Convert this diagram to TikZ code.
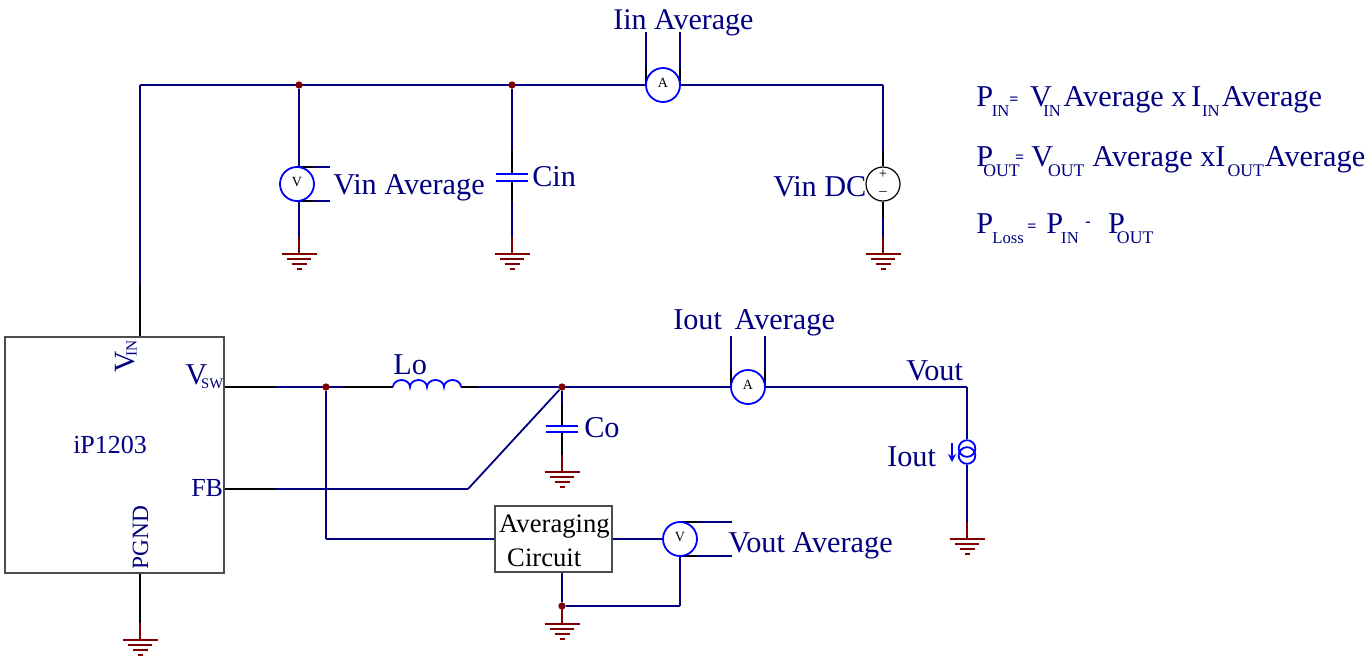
\documentclass[tikz,border=0pt]{standalone}
\usepackage{fontspec}
\setmainfont{Liberation Serif}
\usetikzlibrary{arrows.meta,backgrounds}
\definecolor{wirenavy}{RGB}{0,0,128}
\definecolor{partblue}{RGB}{0,0,255}
\definecolor{gndred}{RGB}{128,0,0}
\newcommand{\lowsub}[1]{\raisebox{-7.5pt}{\fontsize{12.5}{14}\selectfont #1}}
\newcommand{\lowout}[1]{\raisebox{-7.5pt}{\fontsize{13.3}{15}\selectfont #1}}
\newcommand{\smalleq}[1]{\raisebox{#1}{\fontsize{12}{14}\bfseries\selectfont =}}
\tikzset{
  wire/.style={draw=wirenavy,line width=1.35pt},
  stub/.style={draw=black,line width=1.35pt},
  part/.style={draw=partblue,line width=1.35pt},
  dot/.style={circle,fill=gndred,inner sep=0,minimum size=5.5pt},
  meter/.style={circle,draw=partblue,fill=white,line width=1.35pt,inner sep=0,minimum size=25.5pt,text=black,text height=7pt,text depth=3.5pt,font=\fontsize{10.5}{12}\selectfont},
  source/.style={circle,draw=black,fill=white,line width=.9pt,inner sep=0,minimum size=25.5pt},
  sign/.style={inner sep=0,text=black,font=\fontsize{11}{12}\selectfont},
  coil/.style={circle,draw=partblue,line width=1.35pt,inner sep=0,minimum size=12.5pt},
  lab/.style={text=wirenavy,font=\fontsize{22.7}{26}\selectfont,anchor=base west,inner sep=0,yshift=-1.2pt},
  lab small/.style={lab,font=\fontsize{19.5}{22}\selectfont},
  box/.style={draw=black!70,line width=.9pt,inner sep=0},
  gndsym/.pic={
    \draw[draw=gndred,line width=1.35pt] (0,0) -- (0,17);
    \draw[draw=gndred,line width=1.35pt] (-17.5,17) -- (17.5,17) (-12,22) -- (12,22) (-7.5,27) -- (7.5,27) (-2.5,32) -- (2.5,32);
  }
}
\begin{document}
\begin{tikzpicture}[x=.75pt,y=-.75pt]
  \useasboundingbox (0,0) rectangle (1372,665);
  \draw
    (299,85) node[dot] (topj1){}
    (512,85) node[dot] (topj2){}
    (326,387) node[dot] (swj){}
    (562,387) node[dot] (outj){}
    (562,606) node[dot] (avgj){}
    (140,85) coordinate (railL)
    (883,85) coordinate (railR)
    (140,285) coordinate (vinblk)
    (140,337) coordinate (vinpin)
    (140,573) coordinate (gndpin)
    (224,387) coordinate (swpin)
    (224,489) coordinate (fbpin)
    (275,387) coordinate (swblk)
    (275,489) coordinate (fbblk)
    (468,489) coordinate (fbbend)
    (326,539) coordinate (avgbend)
    (343,387) coordinate (loblk)
    (393,387) coordinate (loL)
    (461,387) coordinate (loR)
    (478,387) coordinate (loRblk)
    (967,387) coordinate (voutC)
    (299,167) coordinate (vinT)
    (299,201) coordinate (vinB)
    (313,167) coordinate (vinTb)
    (313,201) coordinate (vinBb)
    (330,167) coordinate (vinTe)
    (330,201) coordinate (vinBe)
    (646,32) coordinate (iinLe)
    (680,32) coordinate (iinRe)
    (646,68) coordinate (iinLb)
    (680,68) coordinate (iinRb)
    (646,85) coordinate (iinL)
    (680,85) coordinate (iinR)
    (731,336) coordinate (iouLe)
    (765,336) coordinate (iouRe)
    (731,371) coordinate (iouLb)
    (765,371) coordinate (iouRb)
    (731,387) coordinate (iouL)
    (765,387) coordinate (iouR)
    (680,522) coordinate (voaT)
    (680,556) coordinate (voaB)
    (697,522) coordinate (voaTb)
    (697,556) coordinate (voaBb)
    (732,522) coordinate (voaTe)
    (732,556) coordinate (voaBe)
    (680,606) coordinate (voaC)
    (562,572) coordinate (avgbot)
    (512,174) coordinate (cinT)
    (512,181) coordinate (cinB)
    (512,150) coordinate (cinTb)
    (512,202) coordinate (cinBb)
    (496,174) coordinate (cin1)
    (528,174) coordinate (cin2)
    (496,181) coordinate (cin3)
    (528,181) coordinate (cin4)
    (562,426) coordinate (coT)
    (562,432) coordinate (coB)
    (562,404) coordinate (coTb)
    (546,426) coordinate (co1)
    (578,426) coordinate (co2)
    (546,432) coordinate (co3)
    (578,432) coordinate (co4)
    (883,151) coordinate (srcTb)
    (883,218) coordinate (srcBb)
    (952,443) coordinate (arrT)
    (952,462) coordinate (arrB)
    (299,237) coordinate (gnd1)
    (512,237) coordinate (gnd2)
    (883,237) coordinate (gnd3)
    (140,623) coordinate (gnd4)
    (562,455) coordinate (gnd5)
    (562,607) coordinate (gnd6)
    (967,522) coordinate (gnd7);
  \node[box,minimum width=164.25pt,minimum height=177pt] (ic) at (114.5,455) {};
  \node[box,minimum width=87.75pt,minimum height=49.5pt,font=\fontsize{20}{25.5}\selectfont,align=left] (avgbox) at (553.5,539) {\rule{0pt}{16pt}\kern1.5pt Averaging\\\kern7.5pt Circuit};
  \node[meter] (iinmeter) at (663,85) {A};
  \node[meter] (vinmeter) at (297,184) {V};
  \node[meter] (ioutmeter) at (748,387) {A};
  \node[meter] (voutmeter) at (680,539) {V};
  \node[source] (vinsrc) at (883,184) {};
  \node[sign] (srcplus) at (883,174) {+};
  \node[sign] (srcminus) at (883,194) {--};
  \node[coil] (iout1) at (967,448.5) {};
  \node[coil] (iout2) at (967,455.5) {};
  \begin{scope}[on background layer]
    \begin{scope}[wire]
      \draw (railL) to (iinmeter);
      \draw (iinmeter) to (railR);
      \draw (railL) to (vinpin);
      \draw (railR) to (vinsrc);
      \draw (vinsrc) to (gnd3);
      \draw (topj1) to (vinT);
      \draw (vinB) to (gnd1);
      \draw (vinT) to (vinTe);
      \draw (vinB) to (vinBe);
      \draw (topj2) to (cinT);
      \draw (cinB) to (gnd2);
      \draw (iinLe) to (iinL);
      \draw (iinRe) to (iinR);
      \draw (swpin) to (loL);
      \draw (loR) to (ioutmeter);
      \draw (ioutmeter) to (voutC);
      \draw (voutC) to (iout1);
      \draw (iout2) to (gnd7);
      \draw (iouLe) to (iouL);
      \draw (iouRe) to (iouR);
      \draw (fbpin) to (fbbend);
      \draw (fbbend) to (outj);
      \draw (swj) to (avgbend);
      \draw (avgbend) to (avgbox);
      \draw (avgbox) to (voutmeter);
      \draw (avgbot) to (avgj);
      \draw (outj) to (coT);
      \draw (avgj) to (voaC);
      \draw (voaC) to (voaB);
      \draw (voaT) to (voaTe);
      \draw (voaB) to (voaBe);
    \end{scope}
    \begin{scope}[stub]
      \draw (vinblk) to (vinpin);
      \draw (gndpin) to (gnd4);
      \draw (swpin) to (swblk);
      \draw (fbpin) to (fbblk);
      \draw (loblk) to (loL);
      \draw (loR) to (loRblk);
      \draw (cinTb) to (cinT);
      \draw (cinB) to (cinBb);
      \draw (coTb) to (coT);
      \draw (coB) to (gnd5);
      \draw (srcTb) to (vinsrc);
      \draw (vinsrc) to (srcBb);
      \draw (vinT) to (vinTb);
      \draw (vinB) to (vinBb);
      \draw (voaT) to (voaTb);
      \draw (voaB) to (voaBb);
      \draw (iinLb) to (iinL);
      \draw (iinRb) to (iinR);
      \draw (iouLb) to (iouL);
      \draw (iouRb) to (iouR);
    \end{scope}
  \end{scope}
  \begin{scope}[part]
    \draw (cin1) to (cin2);
    \draw (cin3) to (cin4);
    \draw (co1) to (co2);
    \draw (co3) to (co4);
    \draw (loL) \foreach \k in {1,...,4} {arc (180:360:8.5 and 7)};
    \draw[-{Stealth[length=6pt,width=6pt]}] (arrT) to (arrB);
  \end{scope}
  \foreach \g in {gnd1,gnd2,gnd3,gnd4,gnd5,gnd6,gnd7}
    \path (\g) pic {gndsym};
  \node[lab,font=\fontsize{22.5}{26}\selectfont] (iinlabel) at (613,28) {Iin Average};
  \node[lab] (vinlabel) at (333,193) {Vin Average};
  \node[lab] (cinlabel) at (532,185) {Cin};
  \node[lab] (dclabel) at (773,195) {Vin DC};
  \node[lab,rotate=90,font=\fontsize{22}{26}\selectfont] (vinpinlabel) at (134,371) {V\kern-4pt\raisebox{-2pt}{\fontsize{11.5}{13}\selectfont IN}};
  \node[lab] (swlabel) at (185,383) {V\kern-4.5pt\raisebox{-3pt}{\fontsize{11}{13}\selectfont SW}};
  \node[lab small] (iclabel) at (73,452) {iP1203};
  \node[lab small] (fblabel) at (191,495) {FB};
  \node[lab,rotate=90,font=\fontsize{17.5}{20}\selectfont] (pgndlabel) at (148,568) {PGND};
  \node[lab] (lolabel) at (393,373) {Lo};
  \node[lab] (colabel) at (584,436) {Co};
  \node[lab] (ioutavg) at (673,328) {Iout\kern9.5pt Average};
  \node[lab] (voutlabel) at (906,379) {Vout};
  \node[lab] (ioutlabel) at (887,465) {Iout};
  \node[lab] (voutavg) at (728,551) {Vout Average};
  \node[lab] (pineq) at (976,105) {P\kern-1pt\lowsub{IN}\smalleq{1.5pt}\kern8.75pt V\kern-6.5pt\lowsub{IN}\kern2pt Average x\kern-2pt\ I\kern.5pt\lowsub{IN}\kern1.5pt Average};
  \node[lab] (pouteq) at (976,165) {P\kern-7.3pt\lowout{OUT}\kern-3.5pt\smalleq{3pt}\kern5.25pt V\kern-3.75pt\lowout{OUT}\kern.25pt\ Average xI\kern1.5pt\lowout{OUT}\kern.75pt Average};
  \node[lab] (plosseq) at (976,232) {P\kern-.5pt\lowsub{Loss}\kern2.5pt\smalleq{1.5pt}\kern7.5pt P\kern-1.5pt\lowsub{IN}\kern5pt\raisebox{5pt}{\fontsize{12}{14}\bfseries\selectfont -}\kern13pt P\kern-6pt\lowout{OUT}};
\end{tikzpicture}
\end{document}
